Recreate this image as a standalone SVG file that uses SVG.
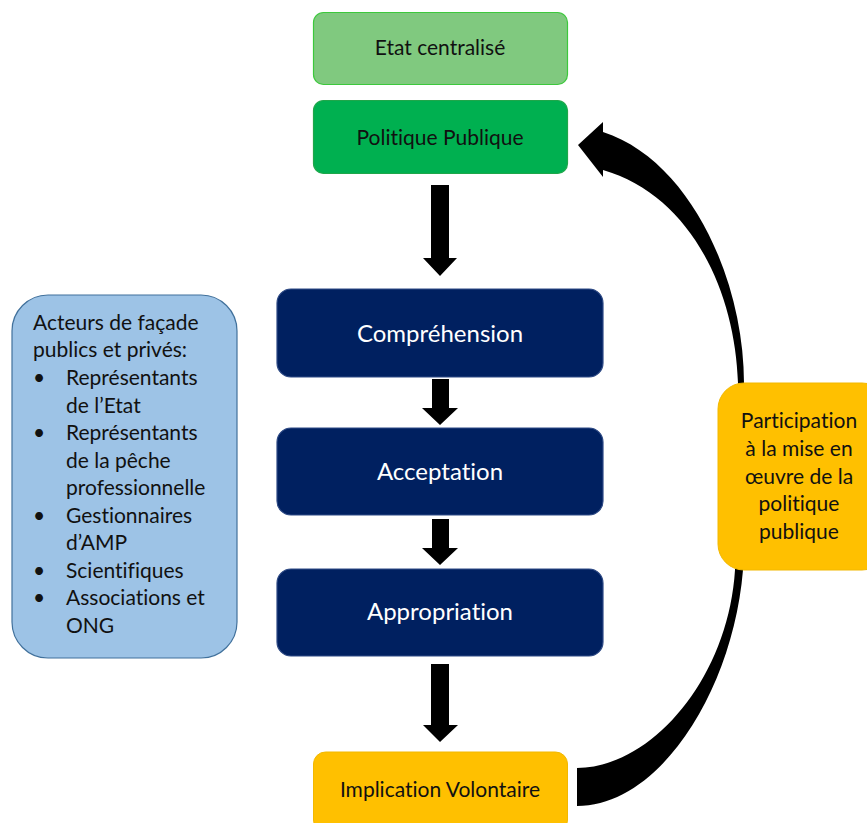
<svg xmlns="http://www.w3.org/2000/svg" width="867" height="823" viewBox="0 0 867 823">
<style>
text{font-family:Lato,"Open Sans","Liberation Sans",sans-serif;font-variant-ligatures:none;}
.dark{fill:#111;font-size:21px;}
.white{fill:#fff;font-size:24px;}
.c{text-anchor:middle;}
.navy{fill:#002060;stroke:#2E4A85;stroke-width:1.2;}
.yel{fill:#FFC000;stroke:#F2B800;stroke-width:1;}
.arr{fill:#000;}
</style>
<rect width="867" height="823" fill="#fff"/>
<g id="connectors">
<path class="arr" d="M431,185 L449,185 L449,258 L457,258 L440,276 L423,258 L431,258 Z"/>
<path class="arr" d="M432,379 L449,379 L449,408 L458,408 L440,425 L422,408 L432,408 Z"/>
<path class="arr" d="M432,519 L449,519 L449,548 L458,548 L440,565 L422,548 L432,548 Z"/>
<path class="arr" d="M431,664 L449,664 L449,725 L458,725 L440,742 L423,725 L431,725 Z"/>
<path class="arr" d="M578,145 L603,122 L603,132 C690,160 744,280 744,383 L743,570 C733,690 660,806 577,806 L577,768 C650,768 728,680 735,570 L738,383 C735,290 690,195 603,170 L603,177 Z"/>
</g>
<g id="etat">
<rect x="313.5" y="12.5" width="254" height="72" rx="10" fill="#80C97F" stroke="#3CC83C" stroke-width="1.2"/>
<text class="dark c" x="440" y="55">Etat centralisé</text>
</g>
<g id="politique">
<rect x="313.5" y="100.5" width="254" height="73" rx="10" fill="#00B050" stroke="#1FA64A" stroke-width="1.2"/>
<text class="dark c" x="440" y="145">Politique Publique</text>
</g>
<g id="comprehension">
<rect class="navy" x="277" y="289" width="326" height="88" rx="14"/>
<text class="white c" x="440" y="342">Compréhension</text>
</g>
<g id="acceptation">
<rect class="navy" x="277" y="428" width="326" height="87" rx="14"/>
<text class="white c" x="440" y="480">Acceptation</text>
</g>
<g id="appropriation">
<rect class="navy" x="277" y="569" width="326" height="87" rx="14"/>
<text class="white c" x="440" y="620">Appropriation</text>
</g>
<g id="implication">
<rect class="yel" x="313.5" y="752" width="254" height="80" rx="12"/>
<text class="dark c" x="440" y="797">Implication Volontaire</text>
</g>
<g id="participation">
<rect class="yel" x="718" y="383" width="170" height="187" rx="26"/>
<text class="dark c" x="799" y="428">Participation</text>
<text class="dark c" x="799" y="456">à la mise en</text>
<text class="dark c" x="799" y="484">œuvre de la</text>
<text class="dark c" x="799" y="511">politique</text>
<text class="dark c" x="799" y="539">publique</text>
</g>
<g id="acteurs">
<rect x="12" y="295" width="225" height="363" rx="36" fill="#9DC3E6" stroke="#41719C" stroke-width="1.2"/>
<text class="dark" x="33" y="330">Acteurs de façade</text>
<text class="dark" x="33" y="357">publics et privés:</text>
<text class="dark" x="33" y="385">•</text><text class="dark" x="66" y="385">Représentants</text>
<text class="dark" x="66" y="413">de l’Etat</text>
<text class="dark" x="33" y="440">•</text><text class="dark" x="66" y="440">Représentants</text>
<text class="dark" x="66" y="468">de la pêche</text>
<text class="dark" x="66" y="495">professionnelle</text>
<text class="dark" x="33" y="523">•</text><text class="dark" x="66" y="523">Gestionnaires</text>
<text class="dark" x="66" y="550">d’AMP</text>
<text class="dark" x="33" y="578">•</text><text class="dark" x="66" y="578">Scientifiques</text>
<text class="dark" x="33" y="605">•</text><text class="dark" x="66" y="605">Associations et</text>
<text class="dark" x="66" y="633">ONG</text>
</g>
</svg>
